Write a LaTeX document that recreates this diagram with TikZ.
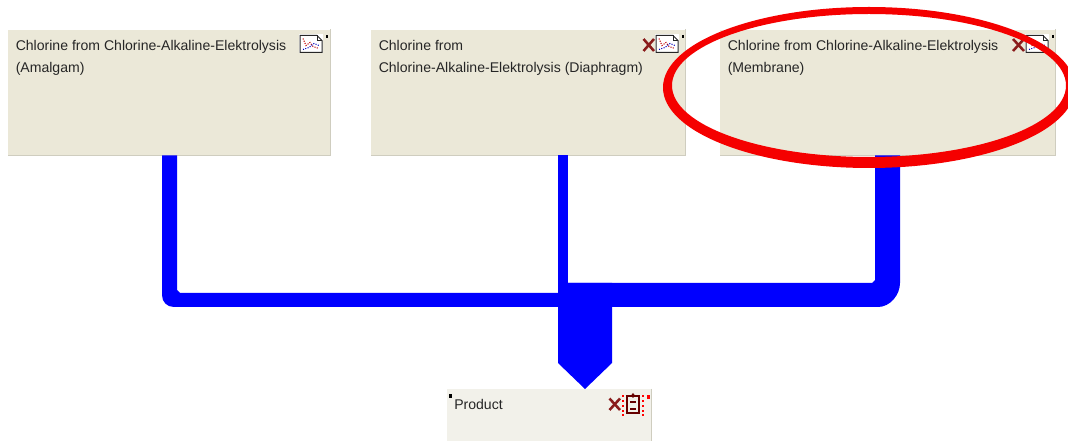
\documentclass[tikz,border=0pt]{standalone}
\usepackage{fontspec}
\setmainfont{Liberation Sans}
\definecolor{procfill}{HTML}{EBE8D8}
\definecolor{prodfill}{HTML}{F2F1EA}
\definecolor{edgegray}{HTML}{CFCDBF}
\definecolor{darkx}{HTML}{8A1C1C}
\definecolor{flowblue}{HTML}{0000FF}
\definecolor{ringred}{HTML}{F50000}
\tikzset{
  x=0.75pt,y=-0.75pt,
  procbox/.style={draw=none,fill=procfill,minimum height=94pt,anchor=north west,inner sep=0pt},
  prodbox/.style={draw=none,fill=prodfill,minimum height=39pt,minimum width=153pt,anchor=north west,inner sep=0pt},
  boxtext/.style={anchor=north west,inner sep=0pt,align=left,font=\fontsize{10.55pt}{16.4pt}\selectfont,text=black!85},
  xmark/.style={draw=darkx,line width=1.9pt},
  docicon/.pic={
    \fill[white] (-1,-1) rectangle (23,18);
    \draw[black!85,line width=0.75pt] (0,0) -- (17,0) -- (22,5) -- (22,17) -- (0,17) -- cycle;
    \draw[black!85,line width=0.6pt] (17,0) -- (17,5) -- (22,5);
    \draw[red!75!black,line width=0.8pt,densely dotted] (3,3) -- (6,10) -- (10,7) -- (13,11) -- (19,13);
    \draw[blue!75!black,line width=0.8pt,densely dotted] (3,14) -- (9,12) -- (14,8) -- (19,10);
    \fill[black] (25.5,0) rectangle (28,3);
  },
}
\begin{document}
\begin{tikzpicture}
\useasboundingbox (0,0) rectangle (1068,441);
\fill[white] (0,0) rectangle (1068,441);

% boxes
\node[procbox,minimum width=241.5pt] (amalgam) at (8,29.5) {};
\node[procbox,minimum width=235.5pt] (diaphragm) at (371,29.5) {};
\node[procbox,minimum width=251.25pt] (membrane) at (720,29.5) {};
\node[prodbox] (product) at (447,389) {};
\foreach \n in {amalgam,diaphragm,membrane,product}
  \draw[edgegray,line width=1.1pt] (\n.north east) -- (\n.south east);
\foreach \n in {amalgam,diaphragm,membrane}
  \draw[edgegray,line width=1.1pt] (\n.south west) -- (\n.south east);

% flows
\fill[flowblue] (162,0 |- amalgam.south) -- (162,295)
  .. controls (162,302) and (167,307) .. (174,307) -- (565,307) -- (565,293)
  -- (180,293) -- (177,290) -- (177,0 |- amalgam.south) -- cycle;
\fill[flowblue] (558,0 |- diaphragm.south) rectangle (568,300);
\fill[flowblue] (875,0 |- membrane.south) -- (875,280) -- (872,283) -- (560,283)
  -- (560,307) -- (878,307) .. controls (890,307) and (900,295) .. (900,283)
  -- (900,0 |- membrane.south) -- cycle;
\fill[flowblue] (558,293) -- (568,293) -- (568,283) -- (612,283) -- (612,363)
  -- (585,388.5 |- product.north) -- (558,363) -- cycle;

% texts
\node[boxtext] (t1) at (15.5,40) {Chlorine from Chlorine-Alkaline-Elektrolysis\\(Amalgam)};
\node[boxtext] (t2) at (378.5,40) {Chlorine from\\Chlorine-Alkaline-Elektrolysis (Diaphragm)};
\node[boxtext] (t3) at (727.5,40) {Chlorine from Chlorine-Alkaline-Elektrolysis\\(Membrane)};
\node[boxtext] (t4) at (454,399) {Product};

% icons
\pic at (300,35.5) {docicon};
\pic at (656,35.5) {docicon};
\pic at (1026,35.5) {docicon};
\draw[xmark] (643.5,39) -- (654,51) (654,39) -- (643.5,51);
\draw[xmark] (1013,39) -- (1024,51) (1024,39) -- (1013,51);
\draw[xmark] (609.5,398.5) -- (620,410) (620,398.5) -- (609.5,410);
% product icon
\fill[red] (646.5,395) rectangle (649.5,399);
\fill[black] (449,394) rectangle (452,398);
\draw[black!60!red,line width=0.9pt] (627,396) rectangle (639,413);
\draw[black!60!red,line width=1.4pt] (630,402) -- (636,402) (630,409) -- (636,409);
\fill[black!60!red] (633,393) -- (635,395.5) -- (633,398) -- (631,395.5) -- cycle;
\foreach \yy in {395,400,405,410,414}{
  \fill[red] (621.5,\yy) rectangle (624,\yy+2);
  \fill[red] (641.5,\yy) rectangle (644,\yy+2);
}

% ring
\fill[ringred,even odd rule] (869,87.5) ellipse[x radius=206,y radius=80.5]
  (869,85.5) ellipse[x radius=197,y radius=71.5];
\end{tikzpicture}
\end{document}
